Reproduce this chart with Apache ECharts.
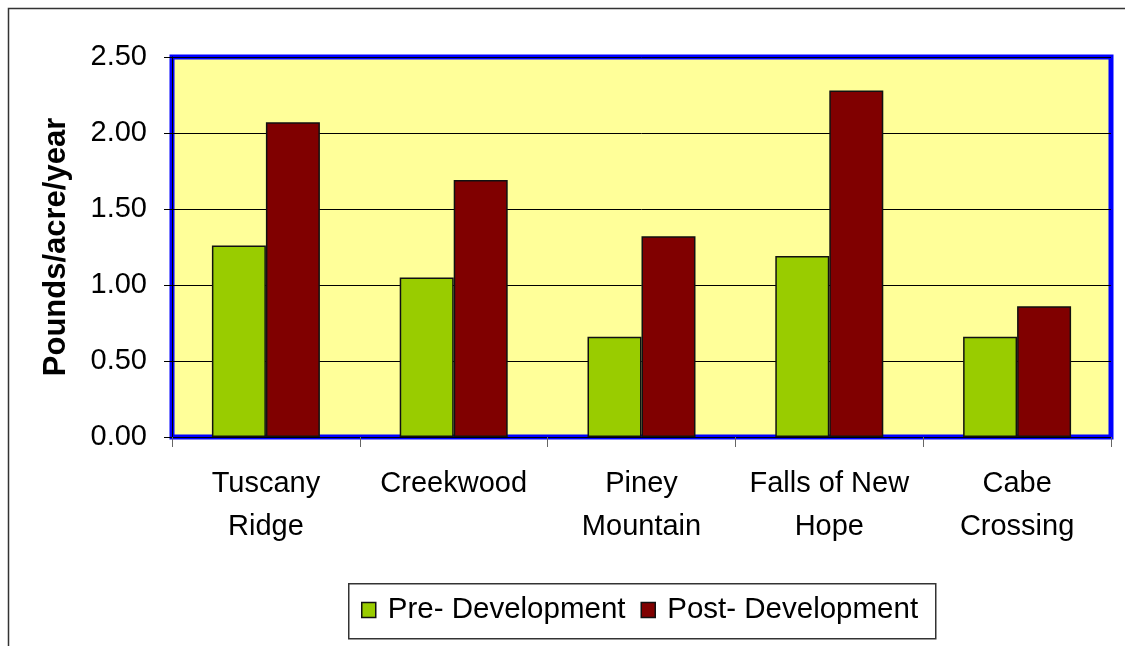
<!DOCTYPE html>
<html>
<head>
<meta charset="utf-8">
<script src="https://cdn.jsdelivr.net/npm/echarts@6/dist/echarts.min.js"></script>
<style>
  html, body { margin: 0; padding: 0; background: #fff; }
  #chart { width: 1125px; height: 646px; }
</style>
</head>
<body>
<div id="chart"></div>
<script>
// data
const sites = ['Tuscany\nRidge', 'Creekwood', 'Piney\nMountain', 'Falls of New\nHope', 'Cabe\nCrossing']
const preDev = [1.26, 1.05, 0.66, 1.19, 0.66]
const postDev = [2.07, 1.69, 1.32, 2.28, 0.86]
const yTicks = { min: 0, max: 2.5, interval: 0.5 }

const font = 'Arial, "Liberation Sans", sans-serif'

var myChart = echarts.init(document.getElementById('chart'))

var option = {
  animation: false,
  backgroundColor: '#fff',
  textStyle: { fontFamily: font },
  graphic: [
    // outer chart frame (cut off at right and bottom)
    {
      type: 'rect',
      left: 6, top: 6,
      shape: { width: 1200, height: 700 },
      style: { fill: 'none', stroke: '#333', lineWidth: 1.5 },
      silent: true
    },
    // legend box
    {
      type: 'rect',
      left: 348, top: 583,
      shape: { width: 587, height: 55 },
      style: { fill: '#fff', stroke: '#333', lineWidth: 1.5 },
      silent: true,
      z: -1
    }
  ],
  grid: {
    left: 172, top: 57, right: 14, bottom: 209,
    show: true,
    backgroundColor: '#FFFF99',
    borderColor: '#0000FF',
    borderWidth: 5
  },
  legend: {
    left: 356,
    top: 590,
    icon: 'rect',
    itemWidth: 14,
    itemHeight: 15,
    itemGap: 15,
    padding: 5,
    textStyle: { fontSize: 29.5, color: '#000', fontFamily: font, padding: [0, 0, 0, 7] },
    data: [
      { name: 'Pre- Development', itemStyle: { borderColor: '#111', borderWidth: 1.5 } },
      { name: 'Post- Development', itemStyle: { borderColor: '#111', borderWidth: 1.5 } }
    ]
  },
  xAxis: {
    type: 'category',
    data: sites,
    axisLine: { show: true, lineStyle: { color: '#000', width: 1 } },
    axisTick: { show: true, interval: 0, length: 10, lineStyle: { color: '#666' } },
    axisLabel: { interval: 0, fontSize: 29, color: '#000', margin: 25, lineHeight: 43, fontFamily: font }
  },
  yAxis: {
    type: 'value',
    min: yTicks.min,
    max: yTicks.max,
    interval: yTicks.interval,
    name: 'Pounds/acre/year',
    nameLocation: 'middle',
    nameGap: 100,
    nameTextStyle: { fontSize: 31, fontWeight: 'bold', color: '#000', fontFamily: font },
    axisLine: { show: true, lineStyle: { color: '#000' } },
    axisTick: { show: true, length: 8, lineStyle: { color: '#000' } },
    axisLabel: {
      fontSize: 29, color: '#000', margin: 25, fontFamily: font,
      formatter: v => v.toFixed(2)
    },
    splitLine: { show: true, lineStyle: { color: '#000', width: 1 } }
  },
  series: [
    {
      name: 'Pre- Development',
      type: 'bar',
      data: preDev,
      barGap: '0%',
      barCategoryGap: '42.5%',
      itemStyle: { color: '#99CC00', borderColor: '#111', borderWidth: 1.5 }
    },
    {
      name: 'Post- Development',
      type: 'bar',
      data: postDev,
      itemStyle: { color: '#800000', borderColor: '#111', borderWidth: 1.5 }
    }
  ]
}

myChart.setOption(option)
</script>
</body>
</html>
